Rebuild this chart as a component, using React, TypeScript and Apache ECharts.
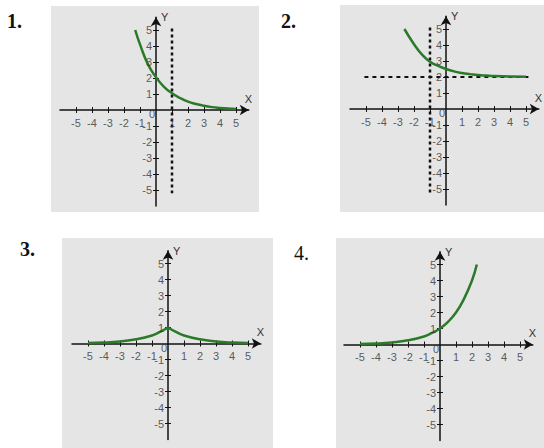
import React, { useEffect, useRef } from "react";
import * as echarts from "echarts";

// ---- data ----
const tickValues = [-5, -4, -3, -2, -1, 1, 2, 3, 4, 5];
const labelValues = [-5, -4, -3, -2, -1, 1, 2, 3, 4, 5];
const panelTitles = ["1.", "2.", "3.", "4."];

const curve1: number[][] = [
  [-1.3, 5], [-1, 4.1], [-0.5, 2.85], [0, 2.05], [0.5, 1.45], [1, 1.05], [1.5, 0.75],
  [2, 0.52], [2.5, 0.37], [3, 0.26], [3.5, 0.18], [4, 0.13], [4.5, 0.09], [5, 0.06],
];
const dotted1: number[][] = [[1, 5.1], [1, -5.2]];

const curve2: number[][] = [
  [-2.6, 5], [-2, 4.05], [-1.5, 3.4], [-1, 2.95], [-0.5, 2.7], [0, 2.5], [0.5, 2.35],
  [1, 2.25], [1.5, 2.18], [2, 2.12], [2.5, 2.09], [3, 2.06], [4, 2.03], [5, 2.02],
];
const dottedV2: number[][] = [[-1, 5.1], [-1, -5.4]];
const dashedH2: number[][] = [[-5.1, 2], [5.2, 2]];

const curve3Left: number[][] = [
  [-5, 0.03], [-4, 0.06], [-3, 0.13], [-2, 0.26], [-1, 0.5], [-0.5, 0.72], [0, 1],
];
const curve3Right: number[][] = [
  [0, 1], [0.5, 0.72], [1, 0.5], [2, 0.26], [3, 0.13], [4, 0.06], [5, 0.03],
];

const curve4: number[][] = [
  [-5, 0.03], [-4, 0.06], [-3, 0.13], [-2, 0.26], [-1, 0.5], [-0.5, 0.72], [0, 1],
  [0.5, 1.42], [1, 2], [1.5, 2.85], [2, 4], [2.3, 5],
];

const origin: number[] = [0, 0];
const axisMin = -6;
const axisMax = 5.8;

// ---- layout ----
const UNIT = 16;
const panels = [
  { ox: 156, oy: 110, bg: [51, 6, 208, 206], title: [7, 21], bold: true },
  { ox: 446, oy: 109, bg: [340, 5, 204, 207], title: [281, 21], bold: true },
  { ox: 168, oy: 343.5, bg: [62, 238, 211, 210], title: [20, 249], bold: true },
  { ox: 440, oy: 344.5, bg: [336, 238, 208, 210], title: [294, 253], bold: false },
];

const GREEN = "#2a7a2a";
const AXIS = "#111";
const LABEL = "#333";
const SANS = "'Liberation Sans', Arial, sans-serif";

function buildOption() {
  const grid: any[] = [];
  const xAxis: any[] = [];
  const yAxis: any[] = [];
  const series: any[] = [];
  const graphic: any[] = [];

  const labelStyle = {
    color: LABEL,
    fontSize: 11,
    fontFamily: SANS,
    textBorderWidth: 0,
  };

  panels.forEach((p, i) => {
    graphic.push({
      type: "rect",
      shape: { x: p.bg[0], y: p.bg[1], width: p.bg[2], height: p.bg[3] },
      style: { fill: "#e5e5e5" },
      z: -10,
      silent: true,
    });
    graphic.push({
      type: "text",
      x: p.title[0],
      y: p.title[1],
      style: {
        text: panelTitles[i],
        font: `${p.bold ? "bold " : ""}20px 'Liberation Serif', 'Times New Roman', serif`,
        fill: "#111",
        verticalAlign: "middle",
        align: "left",
      },
    });

    grid.push({
      left: p.ox + axisMin * UNIT,
      top: p.oy - axisMax * UNIT,
      width: (axisMax - axisMin) * UNIT,
      height: (axisMax - axisMin) * UNIT,
      containLabel: false,
      outerBoundsMode: "none",
    });

    const common = {
      type: "value",
      gridIndex: i,
      min: axisMin,
      max: axisMax,
      interval: 1,
      splitLine: { show: false },
      axisLabel: { show: false },
    };

    xAxis.push({
      ...common,
      position: "bottom",
      axisLine: {
        show: true,
        onZero: true,
        symbol: ["none", "arrow"],
        symbolSize: [8, 9],
        lineStyle: { color: AXIS, width: 1.5 },
      },
      axisTick: {
        show: true,
        length: 3,
        customValues: tickValues,
        lineStyle: { color: AXIS, width: 1 },
      },
      name: "X",
      nameLocation: "end",
      nameGap: -4,
      nameMoveOverlap: false,
      nameTextStyle: {
        color: LABEL,
        fontSize: 11,
        fontFamily: SANS,
        align: "left",
        verticalAlign: "bottom",
        padding: [0, 0, 6, 0],
      },
    });
    xAxis.push({
      ...common,
      position: "top",
      axisLine: { show: false, onZero: true },
      axisTick: {
        show: true,
        length: 3,
        customValues: tickValues,
        lineStyle: { color: AXIS, width: 1 },
      },
    });

    yAxis.push({
      ...common,
      position: "left",
      axisLine: {
        show: true,
        onZero: true,
        symbol: ["none", "arrow"],
        symbolSize: [8, 9],
        lineStyle: { color: AXIS, width: 1.5 },
      },
      axisTick: {
        show: true,
        length: 3,
        customValues: tickValues,
        lineStyle: { color: AXIS, width: 1 },
      },
      name: "Y",
      nameLocation: "end",
      nameGap: 0,
      nameMoveOverlap: false,
      nameTextStyle: {
        color: LABEL,
        fontSize: 11,
        fontFamily: SANS,
        align: "left",
        verticalAlign: "middle",
        padding: [0, 0, 0, 5],
      },
    });
    yAxis.push({
      ...common,
      position: "right",
      axisLine: { show: false, onZero: true },
      axisTick: {
        show: true,
        length: 3,
        customValues: tickValues,
        lineStyle: { color: AXIS, width: 1 },
      },
    });

    // x tick labels on the x axis line
    series.push({
      type: "scatter",
      xAxisIndex: 2 * i,
      yAxisIndex: 2 * i,
      data: labelValues.map((v) => [v, 0]),
      symbolSize: 0,
      silent: true,
      z: 6,
      label: {
        show: true,
        position: "bottom",
        distance: 7,
        formatter: (d: any) => String(d.value[0]),
        ...labelStyle,
      },
    });
    // y tick labels on the y axis line
    series.push({
      type: "scatter",
      xAxisIndex: 2 * i,
      yAxisIndex: 2 * i,
      data: labelValues.map((v) => [0, v]),
      symbolSize: 0,
      silent: true,
      z: 6,
      label: {
        show: true,
        position: "left",
        distance: 4,
        formatter: (d: any) => String(d.value[1]),
        ...labelStyle,
      },
    });
    // origin "0"
    series.push({
      type: "scatter",
      xAxisIndex: 2 * i,
      yAxisIndex: 2 * i,
      data: [origin],
      symbolSize: 0,
      silent: true,
      z: 6,
      label: {
        show: true,
        position: "left",
        distance: 1,
        offset: [0, 4],
        formatter: "0",
        ...labelStyle,
      },
    });
  });

  const curve = (data: number[][], i: number) => ({
    type: "line",
    xAxisIndex: 2 * i,
    yAxisIndex: 2 * i,
    data,
    smooth: true,
    showSymbol: false,
    symbol: "none",
    silent: true,
    z: 5,
    lineStyle: { color: GREEN, width: 2.5 },
  });
  const dashed = (data: number[][], i: number, dash: number[], width: number) => ({
    type: "line",
    xAxisIndex: 2 * i,
    yAxisIndex: 2 * i,
    data,
    showSymbol: false,
    symbol: "none",
    silent: true,
    z: 3,
    lineStyle: { color: "#111", width, type: dash },
  });

  series.push(dashed(dotted1, 0, [3, 3], 2.5));
  series.push(curve(curve1, 0));
  series.push(dashed(dottedV2, 1, [3, 3], 2.5));
  series.push(dashed(dashedH2, 1, [4, 4], 2));
  series.push(curve(curve2, 1));
  series.push(curve(curve3Left, 2));
  series.push(curve(curve3Right, 2));
  series.push(curve(curve4, 3));

  return {
    animation: false,
    backgroundColor: "#ffffff",
    grid,
    xAxis,
    yAxis,
    series,
    graphic,
  };
}

export default function App() {
  const ref = useRef<HTMLDivElement>(null);
  useEffect(() => {
    if (!ref.current) return;
    const chart = echarts.init(ref.current, undefined, { renderer: "svg" });
    chart.setOption(buildOption() as any);
    return () => chart.dispose();
  }, []);
  return (
    <div
      ref={ref}
      style={{ position: "absolute", left: 0, top: 0, width: 544, height: 448 }}
    />
  );
}
